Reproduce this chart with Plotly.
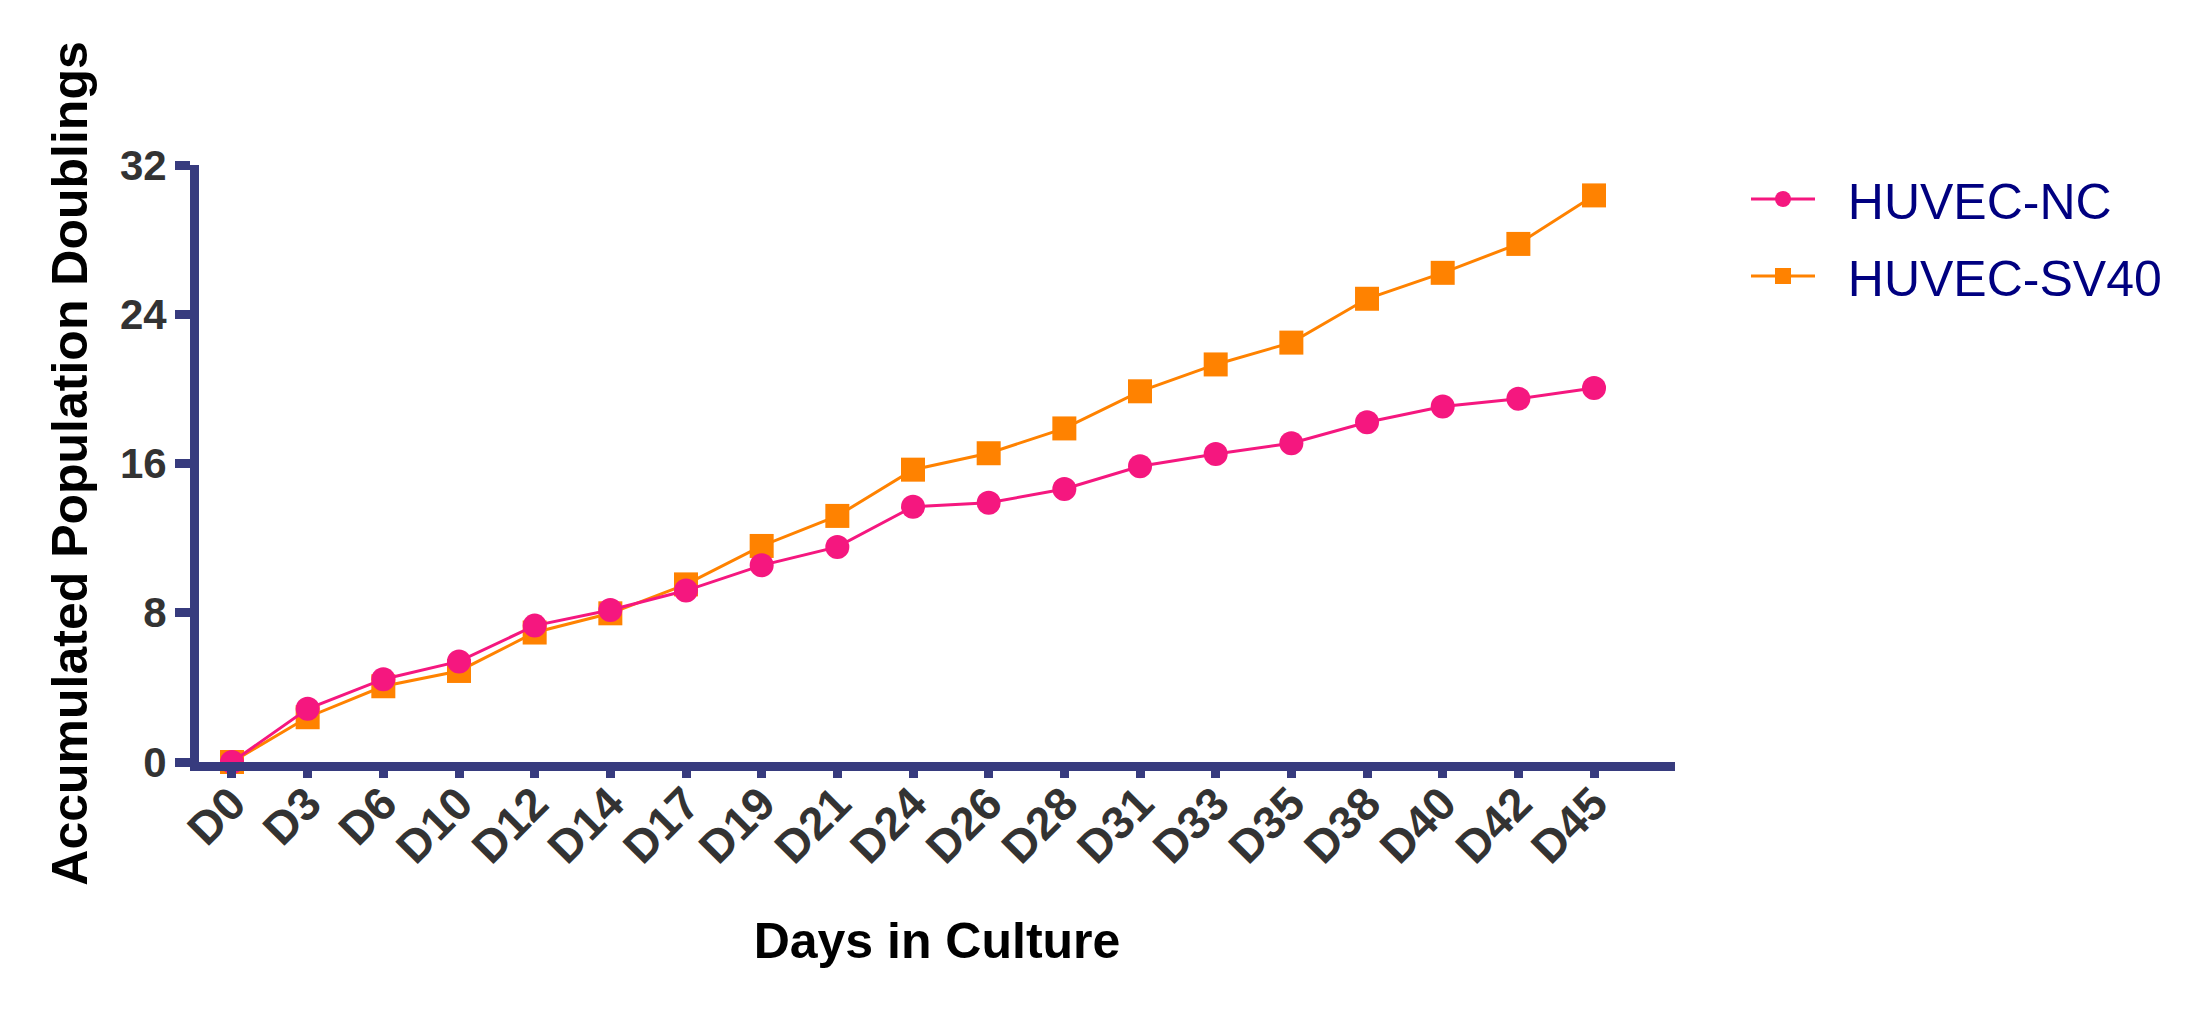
import plotly.graph_objects as go

days = ["D0", "D3", "D6", "D10", "D12", "D14", "D17", "D19", "D21", "D24",
        "D26", "D28", "D31", "D33", "D35", "D38", "D40", "D42", "D45"]
huvec_nc = [0, 2.85, 4.44, 5.39, 7.31, 8.15, 9.19, 10.54, 11.53, 13.68,
            13.90, 14.63, 15.85, 16.51, 17.09, 18.21, 19.06, 19.47, 20.05]
huvec_sv40 = [0, 2.40, 4.06, 4.88, 6.94, 7.97, 9.52, 11.58, 13.19, 15.67,
              16.55, 17.88, 19.87, 21.31, 22.48, 24.83, 26.22, 27.77, 30.37]
y_ticks = [0, 8, 16, 24, 32]

AXIS = "#373B7E"
PINK = "#F5177F"
ORANGE = "#FF8200"
FONT = "Arial, 'Liberation Sans', sans-serif"
W, H = 2200, 1001

fig = go.Figure()
fig.add_trace(go.Scatter(
    x=days, y=huvec_sv40, name="\u00a0\u00a0HUVEC-SV40", mode="lines+markers",
    line=dict(color=ORANGE, width=3),
    marker=dict(symbol="square", size=24, color=ORANGE),
    cliponaxis=False, legendgroup="b", legendrank=2,
))
fig.add_trace(go.Scatter(
    x=days, y=huvec_nc, name="\u00a0\u00a0HUVEC-NC", mode="lines+markers",
    line=dict(color=PINK, width=3),
    marker=dict(symbol="circle", size=24, color=PINK),
    cliponaxis=False, legendgroup="a", legendrank=1,
))

fig.update_layout(
    width=W, height=H,
    margin=dict(l=191, r=533, t=157, b=247),
    paper_bgcolor="white", plot_bgcolor="white",
    font=dict(family=FONT),
    showlegend=True,
    legend=dict(
        xref="container", yref="container",
        x=1738 / W, y=1 - 152 / H, xanchor="left", yanchor="top",
        font=dict(family=FONT, size=50, color="#000080"),
        traceorder="grouped",
        tracegroupgap=9,
        itemwidth=64,
        bgcolor="rgba(0,0,0,0)",
    ),
    xaxis=dict(
        type="category",
        range=[-0.436, 19.07],
        showgrid=False, zeroline=False,
        showline=True, linecolor=AXIS, linewidth=9,
        ticks="outside", ticklen=7, tickwidth=9, tickcolor=AXIS,
        tickangle=-45,
        ticklabelstandoff=-20,
        tickfont=dict(family=FONT, size=46, color="#333333", weight="bold"),
        title=dict(text="Days in Culture", standoff=54,
                   font=dict(family=FONT, size=50, color="black", weight="bold")),
    ),
    yaxis=dict(
        range=[0, 32],
        tickvals=y_ticks,
        showgrid=False, zeroline=False,
        showline=True, linecolor=AXIS, linewidth=9,
        ticks="outside", ticklen=15, tickwidth=9, tickcolor=AXIS,
        tickfont=dict(family=FONT, size=42, color="#333333", weight="bold"),
        title=dict(text="Accumulated Population Doublings", standoff=20,
                   font=dict(family=FONT, size=50, color="black", weight="bold")),
    ),
)

fig.write_html("out.html")
